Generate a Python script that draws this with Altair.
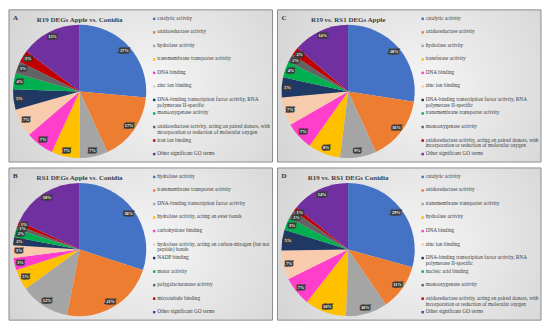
import altair as alt
import pandas as pd

# ---------------- data ----------------
colors = ["#4472C4", "#ED7D31", "#A5A5A5", "#FFC000", "#FF3FCC", "#F8CBAD",
          "#203864", "#00B050", "#636363", "#C00000", "#7030A0"]

A_title = "R19 DEGs Apple vs. Conidia"
A_labels = ["catalytic activity", "oxidoreductase activity", "hydrolase activity",
            "transmembrane transporter activity", "DNA binding", "zinc ion binding",
            "DNA-binding transcription factor activity, RNA\npolymerase II-specific",
            "monooxygenase activity",
            "oxidoreductase activity, acting on paired donors, with\nincorporation or reduction of molecular oxygen",
            "iron ion binding", "Other significant GO terms"]
A_values = [27, 17, 7, 7, 7, 7, 5, 4, 3, 3, 15]

C_title = "R19 vs. RS1 DEGs Apple"
C_labels = ["catalytic activity", "oxidoreductase activity", "hydrolase activity",
            "transferase activity", "DNA binding", "zinc ion binding",
            "DNA-binding transcription factor activity, RNA\npolymerase II-specific",
            "transmembrane transporter activity", "monooxygenase activity",
            "oxidoreductase activity, acting on paired donors, with\nincorporation or reduction of molecular oxygen",
            "Other significant GO terms"]
C_values = [28, 16, 9, 8, 7, 7, 5, 4, 2, 2, 14]

B_title = "RS1 DEGs Apple vs. Conidia"
B_labels = ["hydrolase activity", "transmembrane transporter activity",
            "DNA-binding transcription factor activity",
            "hydrolase activity, acting on ester bonds", "carbohydrate binding",
            "hydrolase activity, acting on carbon-nitrogen (but not\npeptide) bonds",
            "NADP binding", "motor activity", "polygalacturonase activity",
            "microtubule binding", "Other significant GO terms"]
B_values = [30, 23, 12, 5, 3, 3, 2, 2, 1, 1, 18]

D_title = "R19 vs. RS1 DEGs Conidia"
D_labels = ["catalytic activity", "oxidoreductase activity",
            "transmembrane transporter activity", "hydrolase activity",
            "DNA binding", "zinc ion binding",
            "DNA-binding transcription factor activity, RNA\npolymerase II-specific",
            "nucleic acid binding", "monooxygenase activity",
            "oxidoreductase activity, acting on paired donors, with\nincorporation or reduction of molecular oxygen",
            "Other significant GO terms"]
D_values = [29, 11, 10, 10, 7, 7, 5, 3, 2, 1, 14]

# ---------------- layout ----------------
W, H = 265, 153
CX, CY, R = 71, 82, 67
LX, LY0, LSTEP = 146, 9, 13.6
SERIF = "Liberation Serif"


def panel(letter, title, labels, values):
    n = len(labels)
    df = pd.DataFrame({"idx": list(range(n)), "label": labels, "value": values,
                       "pct": [f"{v}%" for v in values]})
    one = pd.DataFrame({"k": [0]})

    bg = alt.Chart(one).mark_rect(
        fill=alt.Gradient(gradient="radial",
                          stops=[alt.GradientStop(color="#f5f5f5", offset=0),
                                 alt.GradientStop(color="#cdcdcd", offset=1)],
                          x1=0.55, y1=0.5, r1=0, x2=0.55, y2=0.5, r2=0.75),
        stroke="#8c8c8c", strokeWidth=1
    ).encode(x=alt.value(0), x2=alt.value(W), y=alt.value(0), y2=alt.value(H))

    color = alt.Color("idx:N", scale=alt.Scale(domain=list(range(n)), range=colors), legend=None)
    base = alt.Chart(df).encode(theta=alt.Theta("value:Q", stack=True),
                                order=alt.Order("idx:Q"))
    pie = base.mark_arc(radius=R).encode(x=alt.value(CX), y=alt.value(CY), color=color)
    halo = base.mark_text(radius=R - 6, font=SERIF, fontSize=4.3, fontWeight="bold",
                          fill="#3c3c3c", stroke="#3c3c3c", strokeWidth=3).encode(
        x=alt.value(CX), y=alt.value(CY), text="pct:N")
    lab = base.mark_text(radius=R - 6, font=SERIF, fontSize=4.3, fontWeight="bold",
                         fill="white").encode(x=alt.value(CX), y=alt.value(CY), text="pct:N")

    ypos = alt.Y("idx:Q", scale=alt.Scale(domain=[0, n - 1],
                                          range=[LY0, LY0 + (n - 1) * LSTEP]), axis=None)
    sq = alt.Chart(df).mark_square(size=6, opacity=1).encode(
        x=alt.value(LX), y=ypos, color=color)
    txt = alt.Chart(df).mark_text(align="left", baseline="top", dy=-3, lineBreak="\n",
                                  lineHeight=5.9, font=SERIF, fontSize=5.3,
                                  color="#404040").encode(
        x=alt.value(LX + 3), y=ypos, text="label:N")

    ttl = alt.Chart(one).mark_text(font=SERIF, fontSize=7, fontWeight="bold",
                                   color="#404040", align="center", baseline="middle").encode(
        x=alt.value(CX), y=alt.value(10), text=alt.value(title))
    let = alt.Chart(one).mark_text(font=SERIF, fontSize=7, fontWeight="bold",
                                   color="#303030", align="left", baseline="middle").encode(
        x=alt.value(4), y=alt.value(8), text=alt.value(letter))

    return alt.layer(bg, pie, halo, lab, sq, txt, ttl, let).properties(width=W, height=H)


pA = panel("A", A_title, A_labels, A_values)
pC = panel("C", C_title, C_labels, C_values)
pB = panel("B", B_title, B_labels, B_values)
pD = panel("D", D_title, D_labels, D_values)

chart = alt.vconcat(
    alt.hconcat(pA, pC, spacing=3),
    alt.hconcat(pB, pD, spacing=3),
    spacing=4,
).properties(padding=0).configure_view(stroke=None)

chart.save("out.html", embed_options={"renderer": "svg", "actions": False})
